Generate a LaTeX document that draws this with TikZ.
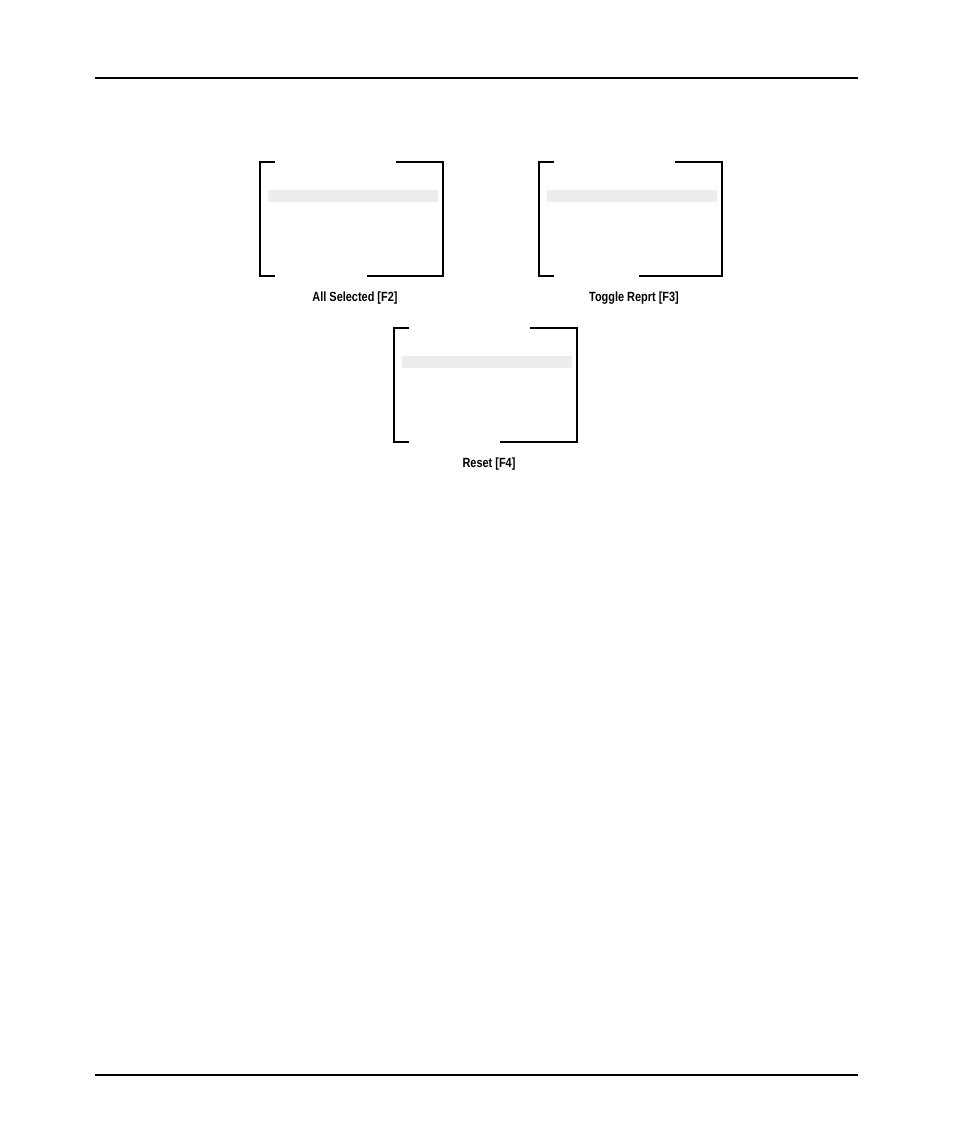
\documentclass[tikz,border=0pt]{standalone}
\usepackage{fontspec}
\setmainfont{Liberation Sans}[FakeStretch=0.82]
\tikzset{
  frame/.style={line width=1.5pt, line cap=rect},
  selbar/.style={fill=black!7, draw=none},
  caption/.style={font=\bfseries\fontsize{10}{12}\selectfont, inner sep=0pt},
  rule/.style={line width=1.5pt}
}
\newcommand{\screenpanel}[5]{%
  \begin{scope}[shift={(#1,#2)}]
    \draw[frame] (14,0) -- (0,0) -- (0,114) -- (14,114);
    \draw[frame] (137,0) -- (183,0) -- (183,114) -- (#3,114);
    \fill[selbar] (8,28) rectangle (178,40);
    \node[caption] (#4) at (95,136) {#5};
  \end{scope}}
\begin{document}
\begin{tikzpicture}[x=0.75pt, y=-0.75pt]
\useasboundingbox (0,0) rectangle (954,1145);
\draw[rule] (95,78) -- (858,78);
\draw[rule] (95,1075) -- (858,1075);
% screens
\screenpanel{260}{162}{108}{allsel}{All Selected [F2]}
\screenpanel{539}{162}{101}{toggle}{Toggle Reprt [F3]}
\screenpanel{394}{328}{107}{reset}{Reset [F4]}
\end{tikzpicture}
\end{document}
